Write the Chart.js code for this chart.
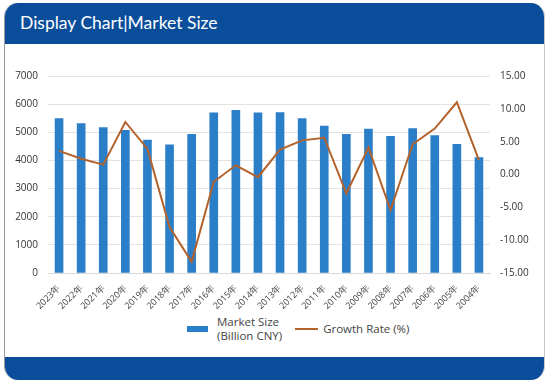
<!DOCTYPE html>
<html>
<head>
<meta charset="utf-8">
<script src="https://cdn.jsdelivr.net/npm/chart.js@4"></script>
<style>
  body { margin: 0; background: #fff; width: 550px; height: 383px; overflow: hidden; font-family: Lato, "Noto Sans", sans-serif; }
  .card { position: absolute; left: 4px; top: 3px; width: 539px; height: 377px; border-radius: 14px; overflow: hidden; border-left: 1px solid #9a9a9a; border-right: 1px solid #c8c8c8; background: #fff; }
  .head { height: 41px; background: #0a4e9b; color: #fff; font-size: 17.5px; line-height: 40px; padding-left: 15px; }
  .foot { position: absolute; left: 0; bottom: 0; width: 100%; height: 23px; background: #0a4e9b; }
  .plot { position: absolute; left: 0; top: 42px; width: 539px; height: 268px; }
  .legend { position: absolute; top: 312px; left: 182px; display: flex; align-items: center; font-size: 11.5px; color: #444; font-family: "Open Sans", sans-serif; }
  .item { display: flex; align-items: center; }
  .sw-bar { width: 21px; height: 6px; background: #2b7fc9; margin-right: 9px; }
  .sw-line { width: 23px; height: 2px; background: #b4622c; margin: 0 5px 0 13px; }
  .txt { line-height: 14px; }
</style>
</head>
<body>
<div class="card">
  <div class="head">Display Chart|Market Size</div>
  <div class="plot"><canvas id="c" width="539" height="268"></canvas></div>
  <div class="legend" id="legend"></div>
  <div class="foot"></div>
</div>
<script>
const years = ['2023年','2022年','2021年','2020年','2019年','2018年','2017年','2016年','2015年','2014年',
               '2013年','2012年','2011年','2010年','2009年','2008年','2007年','2006年','2005年','2004年'];
const marketSize = [5490, 5310, 5170, 5070, 4720, 4550, 4930, 5690, 5780, 5690,
                    5700, 5490, 5220, 4930, 5110, 4860, 5130, 4880, 4570, 4100];
const growthRate = [3.6, 2.4, 1.5, 8.0, 3.9, -8.0, -13.3, -1.1, 1.4, -0.4,
                    3.8, 5.2, 5.6, -2.9, 4.1, -5.4, 4.6, 7.0, 11.0, 2.2];
const sizeLabel = ['Market Size', '(Billion CNY)'];
const rateLabel = 'Growth Rate (%)';

const barColor = '#2b7fc9';
const lineColor = '#b4622c';

const ctx = document.getElementById('c').getContext('2d');
new Chart(ctx, {
    data: {
        labels: years,
        datasets: [{
            type: 'line',
            label: rateLabel,
            data: growthRate,
            yAxisID: 'y1',
            borderColor: lineColor,
            borderWidth: 2,
            pointRadius: 0,
            tension: 0,
            order: 0
        }, {
            type: 'bar',
            label: sizeLabel.join(' '),
            data: marketSize,
            yAxisID: 'y',
            backgroundColor: barColor,
            barThickness: 8,
            order: 1
        }]
    },
    options: {
        responsive: false,
        animation: false,
        layout: { padding: { left: 0, right: 0, top: 31, bottom: 0 } },
        plugins: { legend: { display: false }, tooltip: { enabled: false } },
        scales: {
            x: {
                grid: { display: false },
                border: { color: '#d9d9d9' },
                ticks: { color: '#444', font: { size: 9, family: 'Open Sans' }, maxRotation: 45, minRotation: 45, autoSkip: false, padding: 2 },
                afterFit: s => { s.height = 40; }
            },
            y: {
                position: 'left',
                min: 0, max: 7000,
                ticks: { stepSize: 1000, color: '#333', font: { size: 10, family: 'Open Sans' }, padding: 10,
                         callback: v => String(v) },
                grid: { color: '#e3e3e3', drawTicks: false },
                border: { display: false },
                afterFit: s => { s.width = 43; }
            },
            y1: {
                position: 'right',
                min: -15, max: 15,
                ticks: { stepSize: 5, color: '#333', font: { size: 10, family: 'Open Sans' }, padding: 10,
                         callback: v => v.toFixed(2) },
                grid: { display: false, drawTicks: false },
                border: { display: false },
                afterFit: s => { s.width = 54; }
            }
        }
    }
});

// legend
const legend = document.getElementById('legend');
legend.innerHTML =
    `<div class="item"><div class="sw-bar"></div><div class="txt">${sizeLabel[0]}<br>${sizeLabel[1]}</div></div>` +
    `<div class="item"><div class="sw-line"></div><div class="txt">${rateLabel}</div></div>`;
</script>
</body>
</html>
